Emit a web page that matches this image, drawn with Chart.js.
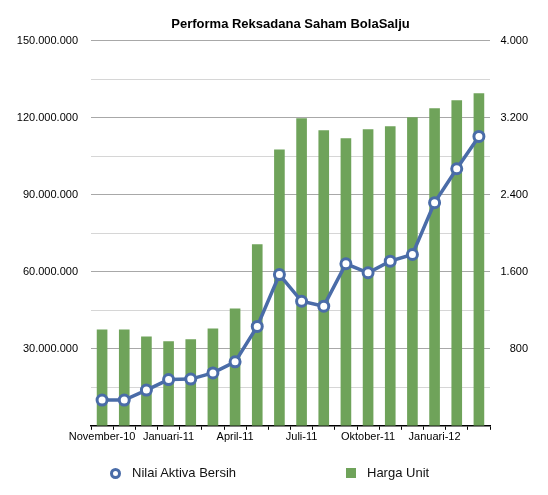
<!DOCTYPE html>
<html>
<head>
<meta charset="utf-8">
<script src="https://cdn.jsdelivr.net/npm/chart.js@4"></script>
<style>
  html, body { margin: 0; padding: 0; background: #fff; }
  #wrap { position: relative; width: 548px; height: 495px; }
  #legend { position: absolute; left: 0; top: 464px; width: 548px; height: 18px;
    font-family: "Liberation Sans", Arial, sans-serif; font-size: 13px; color: #111; }
  #legend .item { position: absolute; top: 0; line-height: 18px; white-space: nowrap; }
  #legend .dot { position: absolute; top: 4px; width: 5px; height: 5px; border: 3px solid #4a6ca8; border-radius: 50%; background: #fff; }
  #legend .box { position: absolute; top: 4px; width: 10px; height: 10px; background: #6fa35a; }
</style>
</head>
<body>
<div id="wrap">
  <canvas id="chPerforma" width="548" height="495"></canvas>
  <div id="legend">
    <span class="dot" style="left:110px;"></span><span class="item" style="left:132px;">Nilai Aktiva Bersih</span>
    <span class="box" style="left:346px;"></span><span class="item" style="left:367px;">Harga Unit</span>
  </div>
</div>
<script>
// ============ 数据 ============
const bulan = ['November-10', '', '', 'Januari-11', '', '', 'April-11', '', '', 'Juli-11', '', '',
  'Oktober-11', '', '', 'Januari-12', '', ''];
// Nilai Aktiva Bersih (Rp) - sumbu kiri
const nilaiAktiva = [10000000, 10000000, 13900000, 18000000, 18200000, 20600000, 24900000, 38700000, 58900000,
  48500000, 46600000, 63100000, 59600000, 64100000, 66700000, 86900000, 100100000, 112700000];
// Harga Unit - sumbu kanan
const hargaUnit = [1000, 1000, 928, 877, 898, 1011, 1219, 1884, 2870,
  3194, 3068, 2985, 3079, 3110, 3205, 3297, 3380, 3453];
const tickKiri = [30000000, 60000000, 90000000, 120000000, 150000000];
const tickKanan = [800, 1600, 2400, 3200, 4000];

// 千分位用点号
const fmtTitik = v => String(Math.round(v)).replace(/\B(?=(\d{3})+(?!\d))/g, '.');

const FONT = '"Liberation Sans", Arial, sans-serif';
const BLUE = '#4a6ca8';
const GREEN = '#6fa35a';

new Chart(document.getElementById('chPerforma'), {
  data: {
    labels: bulan,
    datasets: [
      { label: 'Nilai Aktiva Bersih', type: 'line', data: nilaiAktiva, yAxisID: 'y',
        borderColor: BLUE, borderWidth: 3.5, backgroundColor: '#fff', tension: 0,
        pointRadius: 5, pointBorderWidth: 3, pointBackgroundColor: '#fff', pointBorderColor: BLUE, order: 0 },
      { label: 'Harga Unit', type: 'bar', data: hargaUnit, yAxisID: 'y2',
        backgroundColor: GREEN, categoryPercentage: 1, barPercentage: 0.48, order: 1 }
    ]
  },
  options: {
    responsive: false, animation: false,
    layout: { padding: { top: 0, left: 0, right: 20, bottom: 50 } },
    plugins: {
      legend: { display: false },
      tooltip: { enabled: false },
      title: { display: true, text: 'Performa Reksadana Saham BolaSalju', fullSize: false,
        color: '#000', font: { family: FONT, size: 13, weight: 'bold' }, padding: { top: 17, bottom: 8 } }
    },
    scales: {
      x: {
        grid: { offset: true, drawOnChartArea: false, drawTicks: true, tickLength: 4, color: '#000', tickWidth: 1 },
        border: { color: '#000', width: 1.5 },
        ticks: { autoSkip: false, maxRotation: 0, padding: 1, color: '#000', font: { family: FONT, size: 11 } }
      },
      y: {
        position: 'left', min: 0, max: 150000000,
        afterFit: s => { s.width = 91; },
        afterBuildTicks: s => { s.ticks = [0, 15000000].concat(tickKiri.flatMap(v => v < 150000000 ? [v, v + 15000000] : [v])).map(v => ({ value: v })); },
        grid: { drawTicks: false, color: c => c.tick.value % 30000000 === 0 ? '#a8a8a8' : '#d6d6d6', lineWidth: 1 },
        border: { display: false },
        ticks: { padding: 13, color: '#000', font: { family: FONT, size: 11 },
          callback: v => tickKiri.includes(v) ? fmtTitik(v) : '' }
      },
      y2: {
        position: 'right', min: 0, max: 4000,
        afterFit: s => { s.width = 38; },
        afterBuildTicks: s => { s.ticks = [0].concat(tickKanan).map(v => ({ value: v })); },
        grid: { display: false },
        border: { display: false },
        ticks: { padding: 11, crossAlign: 'far', color: '#000', font: { family: FONT, size: 11 },
          callback: v => tickKanan.includes(v) ? fmtTitik(v) : '' }
      }
    }
  }
});
</script>
</body>
</html>
